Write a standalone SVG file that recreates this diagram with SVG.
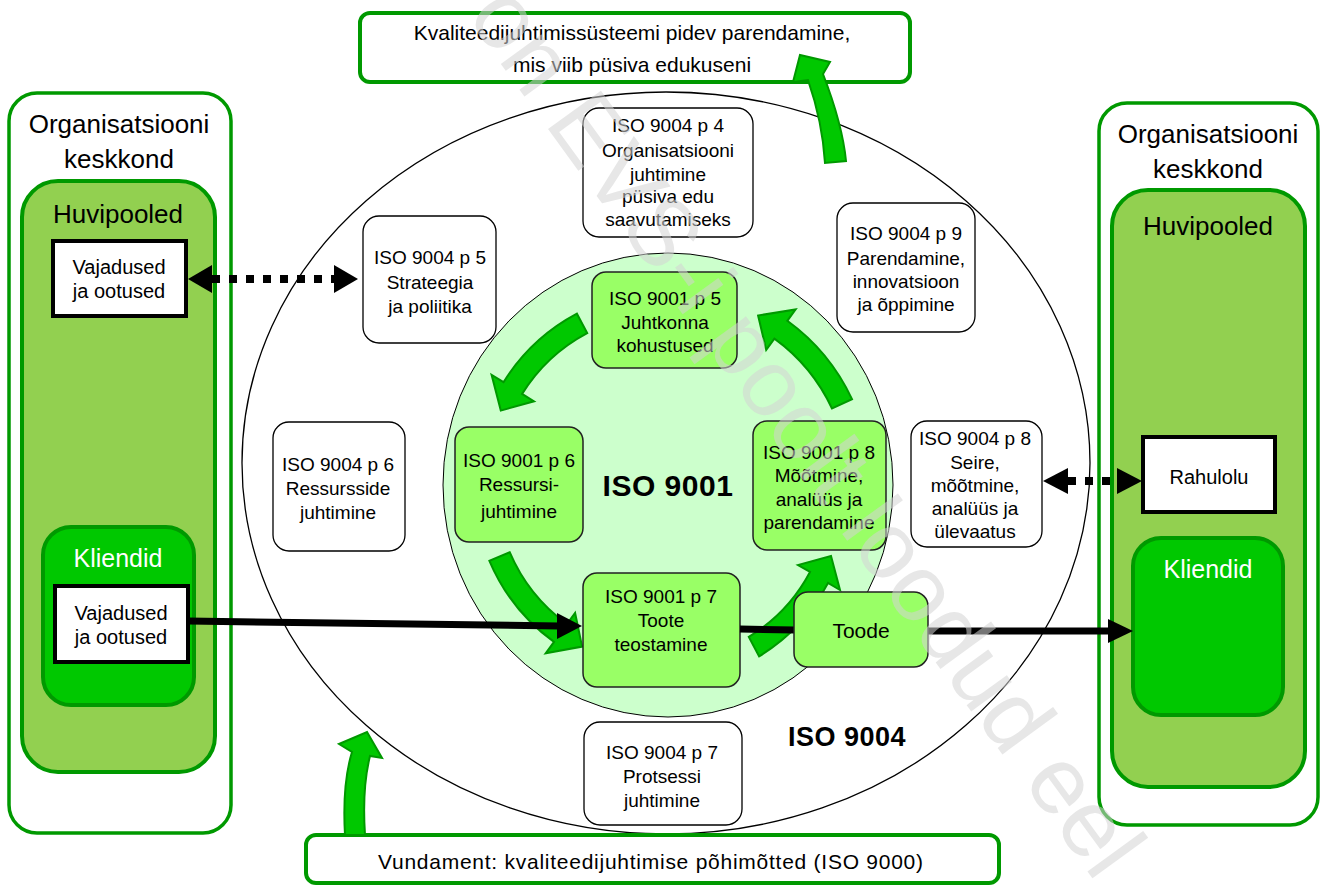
<svg xmlns="http://www.w3.org/2000/svg" width="1321" height="886" viewBox="0 0 1321 886">
<defs>
<style>
text{font-family:"Liberation Sans",Arial,sans-serif;fill:#000}
.t{font-size:19px;text-anchor:middle}
.t20{font-size:20px;text-anchor:middle}
.hdr{font-size:26px;text-anchor:middle}
.wt{font-size:25px;text-anchor:middle;fill:#fff}
.big{font-size:21px;text-anchor:middle}
.bold{font-weight:bold;text-anchor:middle}
.env{fill:#fff;stroke:#009900;stroke-width:3.5}
.hp{fill:#92d050;stroke:#009900;stroke-width:4}
.kl{fill:#00c800;stroke:#009900;stroke-width:4}
.need{fill:#fff;stroke:#000;stroke-width:4}
.wb{fill:#fff;stroke:#000;stroke-width:1.3}
.gb{fill:#99ff66;stroke:#222;stroke-width:1.5}
.band{fill:#fff;stroke:#009900;stroke-width:4}
.garrow{fill:#00c800;stroke:#009900;stroke-width:2}
.conn{stroke:#000;stroke-width:7;fill:none}
.dot{stroke:#000;stroke-width:8;fill:none;stroke-dasharray:8 9}
.head{fill:#000}
.wm{font-size:95px;fill:#d4d4d4;opacity:0.55}
</style>
</defs>

<g id="env-left">
<rect class="env" x="9" y="93" width="222" height="740" rx="28"/>
<text class="hdr" x="119" y="133">Organisatsiooni</text>
<text class="hdr" x="119" y="168">keskkond</text>
</g>
<g id="stakeholders-left">
<rect class="hp" x="22" y="181" width="193" height="591" rx="36"/>
<text class="hdr" x="118" y="223">Huvipooled</text>
</g>
<g id="needs-stakeholders">
<rect class="need" x="53" y="241" width="133" height="75"/>
<text class="t20" x="119" y="274">Vajadused</text>
<text class="t20" x="119" y="298">ja ootused</text>
</g>
<g id="customers-left">
<rect class="kl" x="43" y="527" width="151" height="178" rx="28"/>
<text class="wt" x="118" y="567">Kliendid</text>
</g>
<g id="needs-customers">
<rect class="need" x="55" y="586" width="133" height="76"/>
<text class="t20" x="121" y="620">Vajadused</text>
<text class="t20" x="121" y="644">ja ootused</text>
</g>

<g id="env-right">
<rect class="env" x="1099" y="103" width="219" height="722" rx="28"/>
<text class="hdr" x="1208" y="143">Organisatsiooni</text>
<text class="hdr" x="1208" y="178">keskkond</text>
</g>
<g id="stakeholders-right">
<rect class="hp" x="1112" y="190" width="193" height="597" rx="36"/>
<text class="hdr" x="1208" y="235">Huvipooled</text>
</g>
<g id="satisfaction">
<rect class="need" x="1143" y="437" width="132" height="75"/>
<text class="t20" x="1209" y="484">Rahulolu</text>
</g>
<g id="customers-right">
<rect class="kl" x="1133" y="538" width="150" height="177" rx="28"/>
<text class="wt" x="1208" y="578">Kliendid</text>
</g>

<g id="iso9004">
<ellipse cx="666" cy="463" rx="424" ry="371" fill="#fff" stroke="#000" stroke-width="1.3"/>
<text class="bold" x="847" y="746" font-size="27" letter-spacing="0.5">ISO 9004</text>
</g>
<g id="iso9001">
<ellipse cx="668" cy="485" rx="225" ry="232" fill="#ccffcc" stroke="#000" stroke-width="1"/>
<text class="bold" x="668" y="496" font-size="30" letter-spacing="0.5">ISO 9001</text>
</g>

<g id="p4-9004">
<rect class="wb" x="583" y="108" width="170" height="129" rx="16"/>
<text class="t" x="668" y="132">ISO 9004 p 4</text>
<text class="t" x="668" y="157">Organisatsiooni</text>
<text class="t" x="668" y="181">juhtimine</text>
<text class="t" x="668" y="203">püsiva edu</text>
<text class="t" x="668" y="226">saavutamiseks</text>
</g>
<g id="p5-9004">
<rect class="wb" x="363" y="216" width="133" height="127" rx="16"/>
<text class="t" x="430" y="264">ISO 9004 p 5</text>
<text class="t" x="430" y="289">Strateegia</text>
<text class="t" x="430" y="313">ja poliitika</text>
</g>
<g id="p9-9004">
<rect class="wb" x="837" y="203" width="138" height="129" rx="16"/>
<text class="t" x="906" y="240">ISO 9004 p 9</text>
<text class="t" x="906" y="265">Parendamine,</text>
<text class="t" x="906" y="288">innovatsioon</text>
<text class="t" x="906" y="311">ja õppimine</text>
</g>
<g id="p6-9004">
<rect class="wb" x="273" y="422" width="132" height="129" rx="16"/>
<text class="t" x="338" y="471">ISO 9004 p 6</text>
<text class="t" x="338" y="495">Ressursside</text>
<text class="t" x="338" y="519">juhtimine</text>
</g>
<g id="p8-9004">
<rect class="wb" x="911" y="421" width="131" height="126" rx="16"/>
<text class="t" x="975" y="445">ISO 9004 p 8</text>
<text class="t" x="975" y="469">Seire,</text>
<text class="t" x="975" y="492">mõõtmine,</text>
<text class="t" x="975" y="515">analüüs ja</text>
<text class="t" x="975" y="538">ülevaatus</text>
</g>
<g id="p7-9004">
<rect class="wb" x="584" y="722" width="158" height="103" rx="16"/>
<text class="t" x="662" y="759">ISO 9004 p 7</text>
<text class="t" x="662" y="783">Protsessi</text>
<text class="t" x="662" y="807">juhtimine</text>
</g>

<g id="cycle-arrows">
<path class="garrow" d="M576.9,313.7 A194,194 0 0 0 503.5,382.2 L491.6,374.8 L500.8,410.6 L534,401.3 L522.1,393.9 A172,172 0 0 1 587.2,333.1 Z"/>
<path class="garrow" d="M489.4,560.8 A194,194 0 0 0 554,641.9 L545.7,653.3 L582.1,646.6 L575.1,612.8 L566.9,624.1 A172,172 0 0 1 509.7,552.2 Z"/>
<path class="garrow" d="M759.1,656.3 A190,190 0 0 0 828,583 L840,590 L831,556 L798,565 L810,572 A168,168 0 0 1 748.8,636.9 Z"/>
<path class="garrow" d="M852,399.2 A203,203 0 0 0 787.3,320.8 L795.6,309.4 L758.1,315.5 L766.2,349.9 L774.4,338.6 A181,181 0 0 1 832,408.5 Z"/>
</g>

<g id="p5-9001">
<rect class="gb" x="592" y="272" width="145" height="96" rx="14"/>
<text class="t" x="665" y="305">ISO 9001 p 5</text>
<text class="t" x="665" y="329">Juhtkonna</text>
<text class="t" x="665" y="352">kohustused</text>
</g>
<g id="p6-9001">
<rect class="gb" x="455" y="427" width="128" height="115" rx="14"/>
<text class="t" x="519" y="467">ISO 9001 p 6</text>
<text class="t" x="519" y="491">Ressursi-</text>
<text class="t" x="519" y="518">juhtimine</text>
</g>
<g id="p8-9001">
<rect class="gb" x="753" y="421" width="133" height="129" rx="14"/>
<text class="t" x="819" y="459">ISO 9001 p 8</text>
<text class="t" x="819" y="482">Mõõtmine,</text>
<text class="t" x="819" y="506">analüüs ja</text>
<text class="t" x="819" y="529">parendamine</text>
</g>
<g id="p7-9001">
<rect class="gb" x="583" y="573" width="157" height="114" rx="14"/>
<text class="t" x="661" y="603">ISO 9001 p 7</text>
<text class="t" x="661" y="627">Toote</text>
<text class="t" x="661" y="651">teostamine</text>
</g>

<g id="connectors">
<line class="dot" x1="212" y1="279" x2="334" y2="279"/>
<polygon class="head" points="188,279 212,265 212,293"/>
<polygon class="head" points="358,279 334,265 334,293"/>
<line class="dot" x1="1068" y1="481" x2="1117" y2="481"/>
<polygon class="head" points="1043,481 1068,468 1068,494"/>
<polygon class="head" points="1142,481 1117,468 1117,494"/>
<line class="conn" x1="188" y1="621" x2="560" y2="626"/>
<polygon class="head" points="582,626 557,613 557,639"/>
<line class="conn" x1="740" y1="629" x2="795" y2="630"/>
<line class="conn" x1="928" y1="631" x2="1110" y2="631"/>
<polygon class="head" points="1133,631 1108,619 1108,643"/>
</g>

<g id="product">
<rect class="gb" x="794" y="592" width="134" height="75" rx="14"/>
<text x="861" y="638" font-size="21" text-anchor="middle">Toode</text>
</g>

<g id="improvement">
<rect class="band" x="360" y="13" width="550" height="69" rx="10"/>
<text class="big" x="632" y="40">Kvaliteedijuhtimissüsteemi pidev parendamine,</text>
<text class="big" x="632" y="72">mis viib püsiva edukuseni</text>
</g>
<g id="foundation">
<rect class="band" x="306" y="835" width="693" height="48" rx="10"/>
<text x="378" y="869" font-size="21" textLength="545" lengthAdjust="spacing">Vundament: kvaliteedijuhtimise põhimõtted (ISO 9000)</text>
</g>

<g id="flow-arrows">
<path class="garrow" d="M825,163 C823,130 816,103 808,80 L793,82 L800,55 L830,62 L823,74 C833,100 843,130 846,161 Z"/>
<path class="garrow" d="M345,835 C343,800 345,775 352,752 L339,744 L367,732 L382,758 L370,756 C364,780 363,805 365,835 Z"/>
</g>

<text class="wm" x="466" y="16" transform="rotate(54 466 16)">on EVS-i poolt loodud eel</text>
</svg>
